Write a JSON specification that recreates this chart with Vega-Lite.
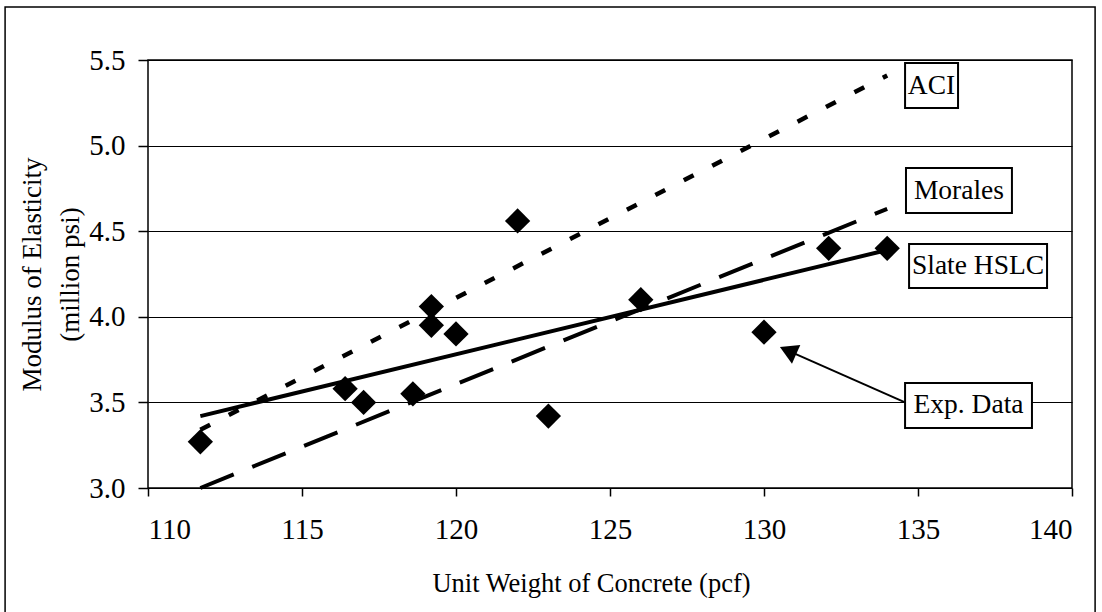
{
  "$schema": "https://vega.github.io/schema/vega-lite/v6.json",
  "width": 924,
  "height": 428,
  "autosize": "none",
  "padding": {"left": 148, "top": 60, "right": 30, "bottom": 124},
  "background": "white",
  "config": {
    "font": "Liberation Serif",
    "view": {"stroke": "black", "strokeWidth": 1.5},
    "axis": {"labelFont": "Liberation Serif", "titleFont": "Liberation Serif", "labelColor": "black", "titleColor": "black", "titleFontWeight": "normal", "tickColor": "black", "domain": false}
  },
  "datasets": {
    "exp": [
      {"w": 111.7, "e": 3.27},
      {"w": 116.4, "e": 3.58},
      {"w": 117.0, "e": 3.50},
      {"w": 118.6, "e": 3.55},
      {"w": 119.2, "e": 4.06},
      {"w": 119.2, "e": 3.95},
      {"w": 120.0, "e": 3.90},
      {"w": 122.0, "e": 4.56},
      {"w": 123.0, "e": 3.42},
      {"w": 126.0, "e": 4.10},
      {"w": 130.0, "e": 3.91},
      {"w": 132.1, "e": 4.40},
      {"w": 134.0, "e": 4.40}
    ],
    "models": [
      {"series": "ACI", "w": 111.7, "e": 3.34},
      {"series": "ACI", "w": 134.0, "e": 5.41},
      {"series": "Morales", "w": 111.7, "e": 3.0},
      {"series": "Morales", "w": 134.0, "e": 4.63},
      {"series": "Slate HSLC", "w": 111.7, "e": 3.42},
      {"series": "Slate HSLC", "w": 134.0, "e": 4.39}
    ],
    "labels": [
      {"label": "ACI", "x": 135.44, "y": 5.351, "x1": 134.58, "x2": 136.30, "y1": 5.482, "y2": 5.220},
      {"label": "Morales", "x": 136.33, "y": 4.737, "x1": 134.61, "x2": 138.05, "y1": 4.869, "y2": 4.606},
      {"label": "Slate HSLC", "x": 136.95, "y": 4.297, "x1": 134.71, "x2": 139.19, "y1": 4.425, "y2": 4.168},
      {"label": "Exp. Data", "x": 136.64, "y": 3.482, "x1": 134.58, "x2": 138.70, "y1": 3.613, "y2": 3.351}
    ],
    "arrow": [
      {"x1": 134.58, "y1": 3.50, "x2": 130.85, "y2": 3.797, "tipx": 130.78, "tipy": 3.802}
    ],
    "frame": [
      {"x1": 105.36, "x2": 140.75, "y1": 5.81, "y2": 2.2}
    ]
  },
  "layer": [
    {
      "data": {"name": "frame"},
      "mark": {"type": "rect", "fill": null, "stroke": "black", "strokeWidth": 1.5, "clip": false},
      "encoding": {
        "x": {"field": "x1", "type": "quantitative", "scale": {"domain": [110, 140], "nice": false, "zero": false},
          "axis": {"values": [110, 115, 120, 125, 130, 135, 140], "grid": false, "tickSize": 8, "tickWidth": 1.5, "labelFontSize": 29, "labelPadding": 19, "title": "Unit Weight of Concrete (pcf)", "titleFontSize": 26.5, "titleX": 443, "titleY": 95, "titleBaseline": "middle"}},
        "x2": {"field": "x2"},
        "y": {"field": "y1", "type": "quantitative", "scale": {"domain": [3, 5.5], "nice": false, "zero": false},
          "axis": {"values": [3, 3.5, 4, 4.5, 5, 5.5], "format": ".1f", "grid": true, "gridColor": "black", "gridWidth": 1, "tickSize": 10, "tickWidth": 1.5, "labelFontSize": 29, "labelPadding": 13, "title": ["Modulus of Elasticity", "(million psi)"], "titleFontSize": 27, "titleAngle": -90, "titleX": -116, "titleY": 214, "titleAlign": "center", "titleBaseline": "middle", "titleLineHeight": 38}},
        "y2": {"field": "y2"}
      }
    },
    {
      "data": {"name": "models"},
      "transform": [{"filter": "datum.series === 'ACI'"}],
      "mark": {"type": "line", "color": "black", "strokeWidth": 4.5, "strokeDash": [11, 21]},
      "encoding": {"x": {"field": "w", "type": "quantitative"}, "y": {"field": "e", "type": "quantitative"}}
    },
    {
      "data": {"name": "models"},
      "transform": [{"filter": "datum.series === 'Morales'"}],
      "mark": {"type": "line", "color": "black", "strokeWidth": 4, "strokeDash": [36, 20]},
      "encoding": {"x": {"field": "w", "type": "quantitative"}, "y": {"field": "e", "type": "quantitative"}}
    },
    {
      "data": {"name": "models"},
      "transform": [{"filter": "datum.series === 'Slate HSLC'"}],
      "mark": {"type": "line", "color": "black", "strokeWidth": 4},
      "encoding": {"x": {"field": "w", "type": "quantitative"}, "y": {"field": "e", "type": "quantitative"}}
    },
    {
      "data": {"name": "exp"},
      "mark": {"type": "point", "shape": "diamond", "filled": true, "color": "black", "opacity": 1, "size": 640},
      "encoding": {"x": {"field": "w", "type": "quantitative"}, "y": {"field": "e", "type": "quantitative"}}
    },
    {
      "data": {"name": "arrow"},
      "mark": {"type": "rule", "color": "black", "strokeWidth": 2},
      "encoding": {"x": {"field": "x1", "type": "quantitative"}, "y": {"field": "y1", "type": "quantitative"}, "x2": {"field": "x2"}, "y2": {"field": "y2"}}
    },
    {
      "data": {"name": "arrow"},
      "mark": {"type": "point", "shape": "triangle-up", "filled": true, "color": "black", "opacity": 1, "size": 420, "angle": 294},
      "encoding": {"x": {"field": "tipx", "type": "quantitative"}, "y": {"field": "tipy", "type": "quantitative"}}
    },
    {
      "data": {"name": "labels"},
      "mark": {"type": "rect", "fill": "white", "stroke": "black", "strokeWidth": 2, "clip": false},
      "encoding": {"x": {"field": "x1", "type": "quantitative"}, "x2": {"field": "x2"}, "y": {"field": "y1", "type": "quantitative"}, "y2": {"field": "y2"}}
    },
    {
      "data": {"name": "labels"},
      "mark": {"type": "text", "font": "Liberation Serif", "fontSize": 27.5, "color": "black", "align": "center", "baseline": "middle"},
      "encoding": {"x": {"field": "x", "type": "quantitative"}, "y": {"field": "y", "type": "quantitative"}, "text": {"field": "label"}}
    }
  ]
}
